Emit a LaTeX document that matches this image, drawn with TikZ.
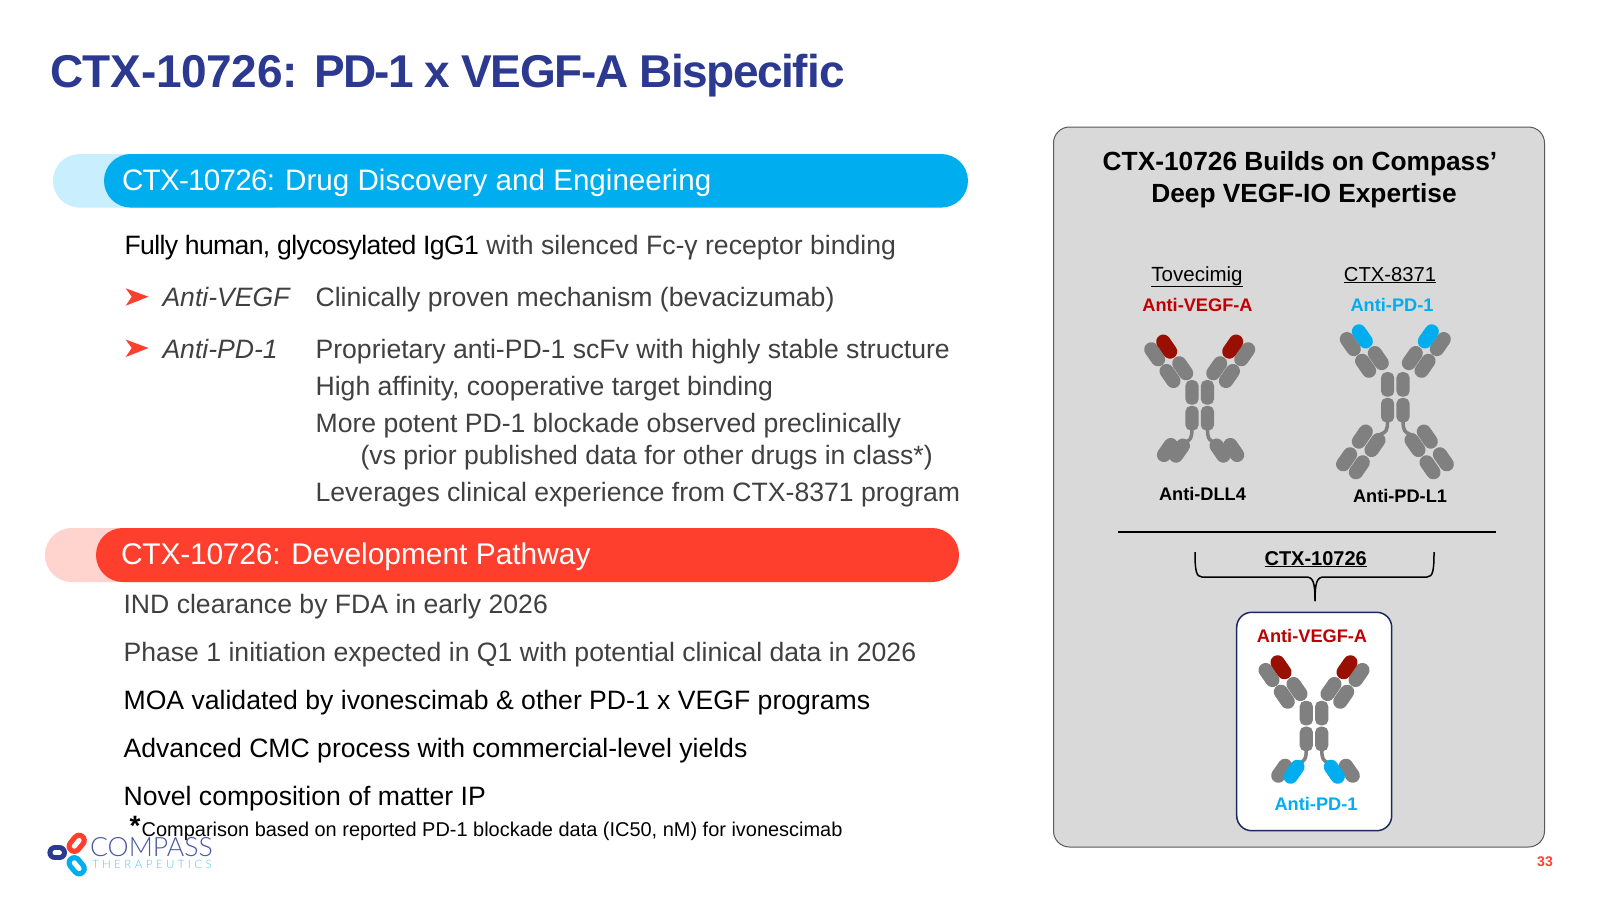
\documentclass[tikz,border=0pt]{standalone}
\usepackage{fontspec}
\setmainfont{Liberation Sans}
\newfontfamily\logofont{Lato Light}
\definecolor{navy}{HTML}{2B3990}
\definecolor{cyanbar}{HTML}{00AEEF}
\definecolor{cyanlight}{HTML}{C9EEFD}
\definecolor{redbar}{HTML}{FF3F2E}
\definecolor{redlight}{HTML}{FFD3CE}
\definecolor{bodygray}{HTML}{404040}
\definecolor{panelgray}{HTML}{D9D9D9}
\definecolor{lobegray}{HTML}{808080}
\definecolor{darkred}{HTML}{990F02}
\definecolor{labelred}{HTML}{C00000}
\definecolor{framenavy}{HTML}{1B2A5E}
\tikzset{
 txt/.style={anchor=base west,inner sep=0pt,outer sep=0pt},
 ctxt/.style={anchor=base,inner sep=0pt,outer sep=0pt},
 body/.style={txt,font=\fontsize{26.6}{32}\selectfont,text=bodygray},
 blk/.style={txt,font=\fontsize{26.6}{32}\selectfont,text=black},
 lab/.style={ctxt,font=\bfseries\fontsize{18.2}{22}\selectfont},
 lobe/.style={line width=14.3pt,line cap=round},
 hinge/.style={line width=3.5pt,lobegray},
 bullet/.style={fill=redbar,draw=none},
 ring/.style={line cap=round},
}
\newcommand\lobeat[4]{\draw[lobe,#4,shift={(#1,#2)}] (-3.4*#3,-4.9) -- (3.4*#3,4.9);}
% #1,#2 centre, #3 tip colour, #4 vertical shift of the arms
\newcommand\antibodytop[4]{%
 \begin{scope}[shift={(#1,#2)}]
  \begin{scope}[shift={(0,#4)}]
  \lobeat{-17}{-37}{1}{lobegray}\lobeat{-45}{-51}{1}{lobegray}\lobeat{-33}{-58.7}{1}{#3}\lobeat{-29.7}{-29.3}{1}{lobegray}
  \lobeat{17}{-37}{-1}{lobegray}\lobeat{45}{-51}{-1}{lobegray}\lobeat{33}{-58.7}{-1}{#3}\lobeat{29.7}{-29.3}{-1}{lobegray}
  \end{scope}
  \foreach \sx in {-7.7,7.7}{
   \fill[lobegray,rounded corners=5.5pt] (\sx-6.6,-25.2) rectangle (\sx+6.6,-0.6);
   \fill[lobegray,rounded corners=5.5pt] (\sx-6.6,0.6) rectangle (\sx+6.6,25.2);
  }
  \draw[hinge] (-7.7,24) .. controls (-8,33) and (-9,35) .. (-15,37);
  \draw[hinge] (7.7,24) .. controls (8,33) and (9,35) .. (15,37);
 \end{scope}}
\begin{document}
\begin{tikzpicture}[x=1pt,y=-1pt]
\useasboundingbox (0,0) rectangle (1600,900);
\fill[white] (0,0) rectangle (1600,900);
% title
\node[txt,text=navy,font=\bfseries\fontsize{46}{54}\selectfont] (title) at (50,87.7) {\addfontfeature{LetterSpace=-0.7}CTX-10726: \addfontfeature{LetterSpace=-3.7}PD-1 x \addfontfeature{LetterSpace=-3}VEGF-A \addfontfeature{LetterSpace=-3.4}Bispecif\kern0pt ic};
% pills
\fill[cyanlight,rounded corners=26.8pt] (53,154) rectangle (300,207.6);
\fill[cyanbar,rounded corners=26.8pt] (104,154) rectangle (968,207.6);
\node[txt,text=white,font=\fontsize{29.6}{34}\selectfont] (pilla) at (122,190) {\addfontfeature{LetterSpace=-2.4}CTX-10726: \addfontfeature{LetterSpace=0}Drug Discovery and Engineering};
\fill[redlight,rounded corners=26.8pt] (45,528) rectangle (300,582);
\fill[redbar,rounded corners=26.8pt] (96,528) rectangle (959,582);
\node[txt,text=white,font=\fontsize{29.9}{34}\selectfont] (pillb) at (121,564) {\addfontfeature{LetterSpace=-0.6}CTX-10726: \addfontfeature{LetterSpace=0}Development Pathway};
% body
\node[blk] (b1) at (124.5,254) {\addfontfeature{LetterSpace=-2.4}Fully human, glycosylated IgG1\addfontfeature{LetterSpace=0}\ \textcolor{bodygray}{with silenced Fc-γ receptor binding}};
\fill[bullet] (125.7,288.3) -- (148.5,296.7) -- (125.7,305.7) -- (131.7,296.7) -- cycle;
\node[body,font=\itshape\fontsize{26.6}{32}\selectfont] (b2) at (162.5,306) {Anti-VEGF};
\node[body] (b3) at (315.6,306) {Clinically proven mechanism (bevacizumab)};
\fill[bullet] (125.7,339.6) -- (148.5,348) -- (125.7,357) -- (131.7,348) -- cycle;
\node[body,font=\itshape\fontsize{26.6}{32}\selectfont] (b4) at (162.5,358) {Anti-PD-1};
\node[body] (b5) at (315.6,358) {Proprietary anti-PD-1 scFv with highly stable structure};
\node[body] (b6) at (315.6,395) {High affinity, cooperative target binding};
\node[body] (b7) at (315.6,432) {More potent PD-1 blockade observed preclinically};
\node[body] (b8) at (360.6,464) {(vs prior published data for other drugs in class*)};
\node[body] (b9) at (315.6,501.5) {Leverages clinical experience from CTX-8371 program};
\node[body] (c1) at (123.6,613) {IND clearance by FDA in early 2026};
\node[body] (c2) at (123.6,661) {Phase 1 initiation expected in Q1 with potential clinical data in 2026};
\node[blk] (c3) at (123.6,709) {MOA validated by ivonescimab \& other PD-1 x VEGF programs};
\node[blk] (c4) at (123.6,757) {Advanced CMC process with commercial-level yields};
\node[blk] (c5) at (123.6,805) {Novel composition of matter IP};
\node[txt,font=\bfseries\fontsize{28}{32}\selectfont] (star) at (129.5,835) {*};
\node[txt,font=\fontsize{19.95}{24}\selectfont] (foot) at (141.7,836) {Comparison based on reported PD-1 blockade data (IC50, nM) for ivonescimab};
% logo
\draw[ring,navy,line width=14.8pt] (54.8,852.8) -- (59.6,852.8);
\draw[ring,white,line width=5pt] (55,852.8) -- (59.4,852.8);
\draw[ring,redbar,line width=15.5pt] (74.3,846.2) -- (79.1,840.4);
\draw[ring,white,line width=5pt] (74.3,846.2) -- (79.1,840.4);
\draw[ring,cyanbar,line width=15.5pt] (74.3,862.8) -- (79.1,868.6);
\draw[ring,white,line width=5pt] (74.3,862.8) -- (79.1,868.6);
\node[txt,text=navy!85,font=\logofont\fontsize{26.6}{28}\selectfont] (logoa) at (90,856.7) {COMPASS};
\node[txt,text=cyanbar!70,font=\logofont\fontsize{11.5}{13}\selectfont\addfontfeature{LetterSpace=30}] (logob) at (92,868.3) {THERAPEUTICS};
% page number
\node[anchor=base east,inner sep=0pt,text=redbar,font=\bfseries\fontsize{14}{16}\selectfont] (page) at (1553,866.7) {33};
% panel
\draw[draw=black!65,fill=panelgray,line width=1pt,rounded corners=16pt] (1053.5,127) rectangle (1544.5,847);
\node[ctxt,font=\bfseries\fontsize{26.3}{30}\selectfont] (pt1) at (1300,170) {CTX-10726 Builds on Compass’};
\node[ctxt,font=\bfseries\fontsize{26.3}{30}\selectfont] (pt2) at (1304,202) {Deep VEGF-IO Expertise};
\node[ctxt,font=\fontsize{20.5}{24}\selectfont] (t1) at (1197,281) {\underline{Tovecimig}};
\node[ctxt,font=\fontsize{20.2}{24}\selectfont] (t2) at (1390,281) {\underline{CTX-8371}};
\node[lab,text=labelred] (l1) at (1197.5,311) {Anti-VEGF-A};
\node[lab,text=cyanbar] (l2) at (1392,311) {Anti-PD-1};
\node[lab,text=black] (l3) at (1202.5,500.5) {Anti-DLL4};
\node[lab,text=black] (l4) at (1400,502.5) {Anti-PD-L1};
% Tovecimig
\antibodytop{1199.7}{405.3}{darkred}{0}
\lobeat{-32.3+1199.7}{44.7+405.3}{-1}{lobegray}\lobeat{-20.3+1199.7}{45.3+405.3}{-1}{lobegray}
\lobeat{20.3+1199.7}{45.3+405.3}{1}{lobegray}\lobeat{34+1199.7}{44.7+405.3}{1}{lobegray}
% CTX-8371
\antibodytop{1395.3}{397.3}{cyanbar}{-2.2}
\lobeat{-20.3+1395.3}{47.7+397.3}{-1}{lobegray}\lobeat{-36+1395.3}{70+397.3}{-1}{lobegray}\lobeat{-33+1395.3}{39.3+397.3}{-1}{lobegray}\lobeat{-48.7+1395.3}{62+397.3}{-1}{lobegray}
\lobeat{19.7+1395.3}{47.7+397.3}{1}{lobegray}\lobeat{34.7+1395.3}{70+397.3}{1}{lobegray}\lobeat{32+1395.3}{39.3+397.3}{1}{lobegray}\lobeat{48+1395.3}{62+397.3}{1}{lobegray}
% divider and brace
\coordinate (da) at (1118,531.7);
\coordinate (db) at (1496,531.7);
\draw[line width=1.8pt] (da) -- (db);
\draw[line width=1.5pt] (1195,552) .. controls (1195,570) and (1196,577) .. (1202,577) -- (1306,577) .. controls (1313,577) and (1315,582) .. (1315,601);
\draw[line width=1.5pt] (1434,552) .. controls (1434,570) and (1433,577) .. (1427,577) -- (1324,577) .. controls (1317,577) and (1315,582) .. (1315,601);
\node[ctxt,font=\bfseries\fontsize{20}{24}\selectfont] (t3) at (1315.7,565) {\underline{CTX-10726}};
% white box
\draw[draw=framenavy,fill=white,line width=1.5pt,rounded corners=15pt] (1236.7,612.3) rectangle (1391.7,830.7);
\node[lab,text=labelred] (l5) at (1312,642.5) {Anti-VEGF-A};
\node[lab,text=cyanbar] (l6) at (1316,810) {Anti-PD-1};
\antibodytop{1314}{726}{darkred}{0}
\lobeat{-32.3+1314}{44.7+726}{-1}{lobegray}\lobeat{32.3+1314+3}{44.7+726}{1}{lobegray}
\lobeat{-20+1314}{45.7+726}{-1}{cyanbar}\lobeat{20.3+1314}{45.7+726}{1}{cyanbar}
\end{tikzpicture}
\end{document}
